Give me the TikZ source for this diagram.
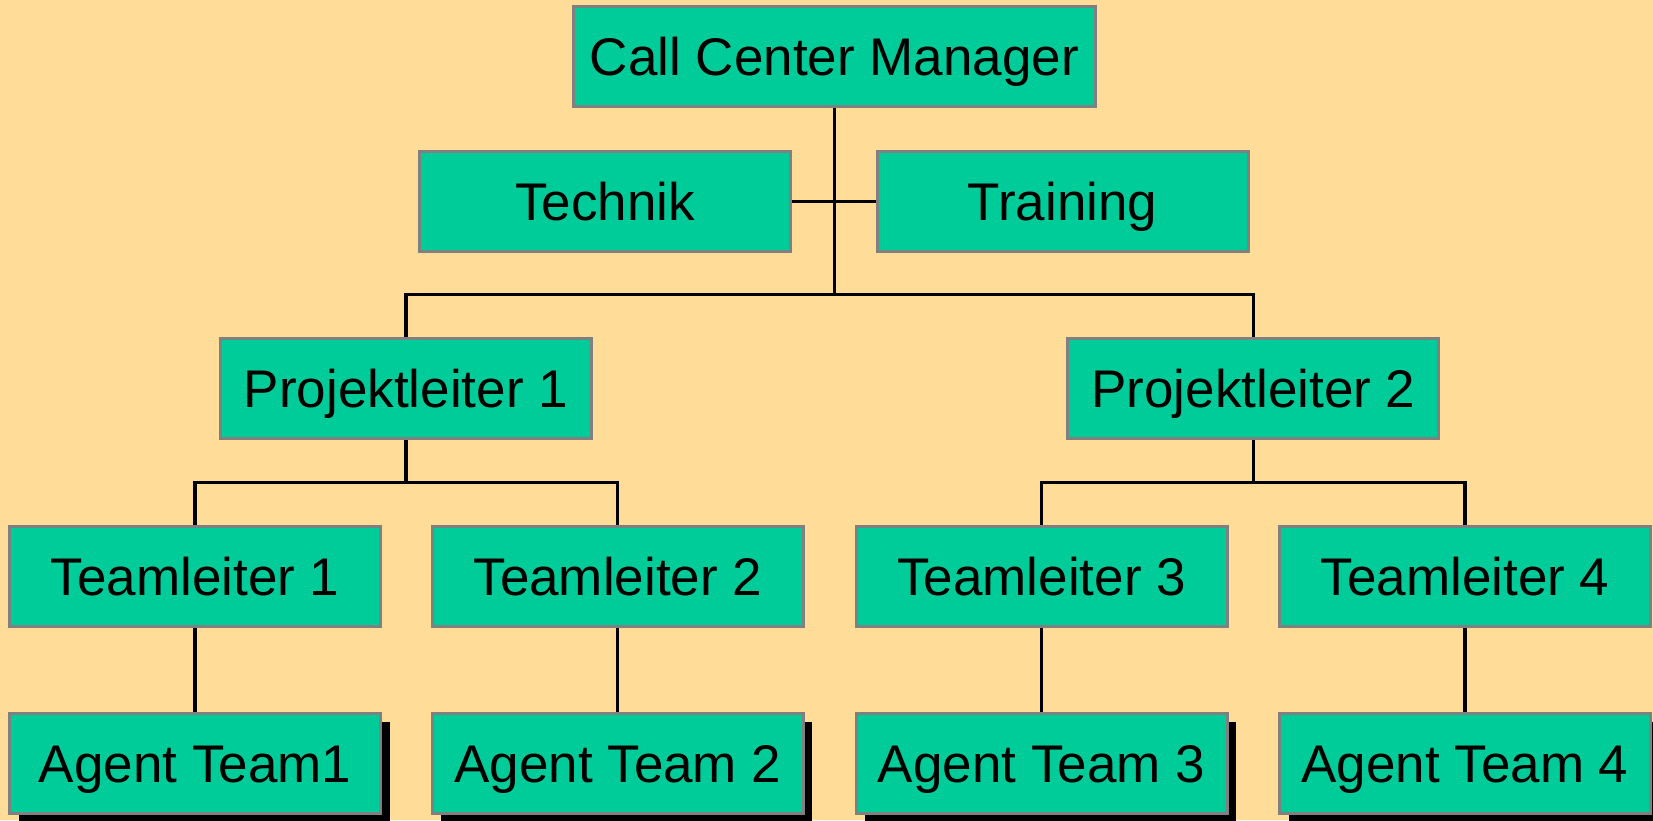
\documentclass[tikz,border=0pt]{standalone}
\usepackage{fontspec}
\setmainfont{Liberation Sans}
\usetikzlibrary{shadows}
\definecolor{bgc}{RGB}{255,221,153}
\definecolor{boxc}{RGB}{0,204,153}
\definecolor{edgec}{RGB}{128,128,128}
\tikzset{
  orgbox/.style={draw=edgec, line width=3pt, fill=boxc, minimum width=371pt, minimum height=100pt, inner sep=0pt, text height=38pt, text depth=0pt, font=\fontsize{53}{60}\selectfont, text=black},
  agentbox/.style={orgbox, drop shadow={shadow xshift=9pt, shadow yshift=-9pt, fill=black, opacity=1}},
  conn/.style={draw=black, line width=3.2pt}
}
\begin{document}
\begin{tikzpicture}[x=1pt,y=-1pt]
\fill[bgc] (0,0) rectangle (1653,820);
\useasboundingbox (0,0) rectangle (1653,820);
\node[orgbox, minimum width=522pt] (ccm) at (834.4,56.4) {Call Center Manager};
\node[orgbox] (tech) at (605,201.4) {Technik};
\node[orgbox] (train) at (1062.5,201.4) {Training};
\node[orgbox] (pl1) at (405.9,388.5) {Projektleiter 1};
\node[orgbox] (pl2) at (1253.4,388.5) {Projektleiter 2};
\node[orgbox] (tl1) at (195,576) {Teamleiter 1};
\node[orgbox] (tl2) at (617.8,576) {Teamleiter 2};
\node[orgbox] (tl3) at (1041.5,576) {Teamleiter 3};
\node[orgbox] (tl4) at (1465,576) {Teamleiter 4};
\node[agentbox] (at1) at (195,763.3) {Agent Team1};
\node[agentbox] (at2) at (617.8,763.3) {Agent Team 2};
\node[agentbox] (at3) at (1041.5,763.3) {Agent Team 3};
\node[agentbox] (at4) at (1465,763.3) {Agent Team 4};
\coordinate (hub) at (834.4,294.1);
\coordinate (b1) at (405.9,482.8);
\coordinate (b2) at (1253.4,482.8);
\draw[conn] (ccm.south) -- (hub);
\draw[conn] (tech.east) -- (train.west);
\draw[conn] (pl1.north) |- (hub) -| (pl2.north);
\draw[conn] (pl1.south) -- (b1);
\draw[conn] (tl1.north) |- (b1) -| (tl2.north);
\draw[conn] (pl2.south) -- (b2);
\draw[conn] (tl3.north) |- (b2) -| (tl4.north);
\draw[conn] (tl1.south) -- (at1.north);
\draw[conn] (tl2.south) -- (at2.north);
\draw[conn] (tl3.south) -- (at3.north);
\draw[conn] (tl4.south) -- (at4.north);
\end{tikzpicture}
\end{document}
